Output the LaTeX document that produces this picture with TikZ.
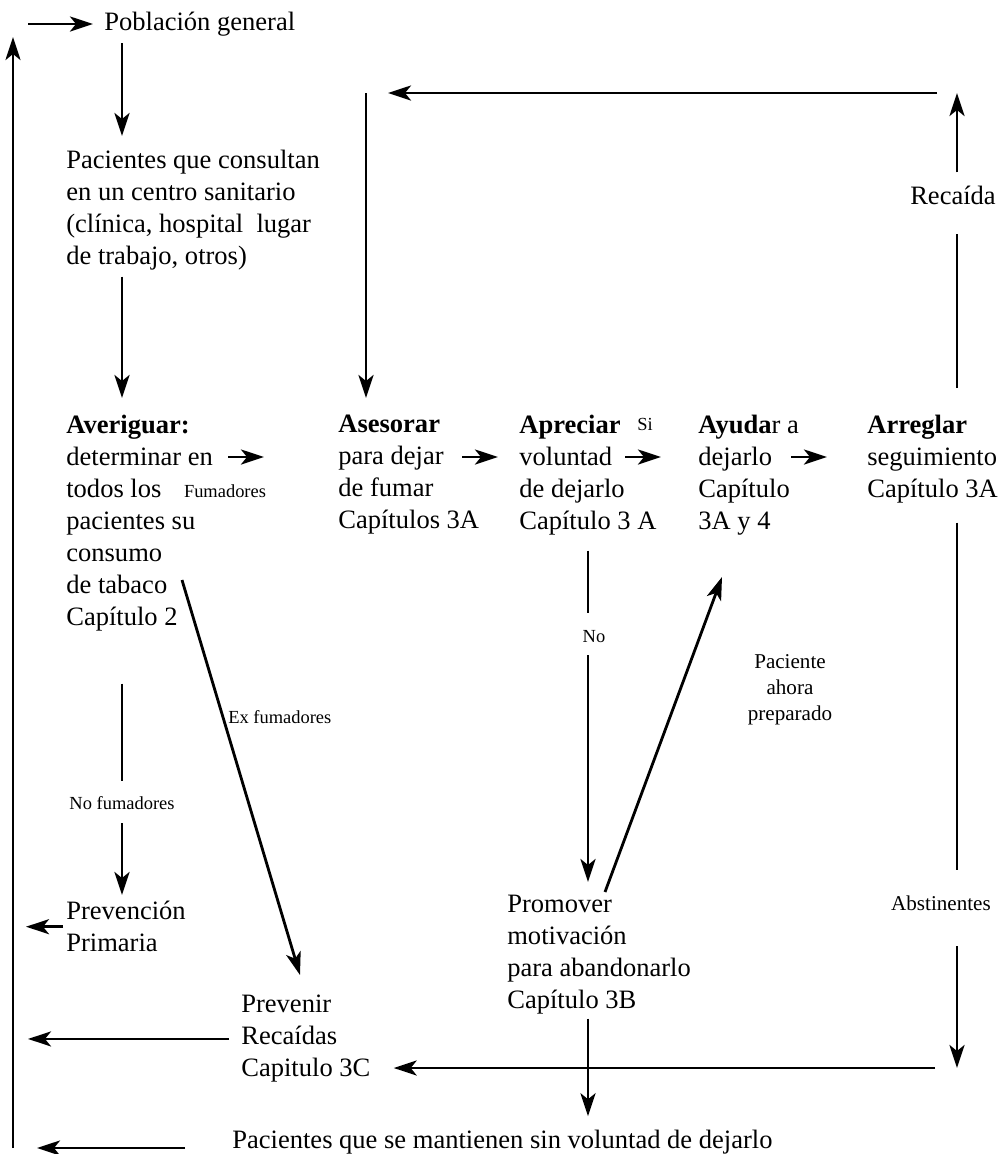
\documentclass[tikz,border=0pt]{standalone}
\usepackage{fontspec}
\setmainfont{Liberation Serif}
\usetikzlibrary{arrows.meta}

\newcommand{\bodyfont}{\fontsize{15.1}{18.2}\selectfont}
\newcommand{\tagfont}{\fontsize{10.5}{12.6}\selectfont}
\newcommand{\notefont}{\fontsize{12}{14.7}\selectfont}

\begin{document}
\begin{tikzpicture}[
  x=0.2mm, y=-0.2mm,
  >={Stealth[length=4.6mm, width=3mm, inset=1.2mm]},
  every node/.style={font=\bodyfont, inner sep=0pt, align=left},
  block/.style={anchor=north west},
  tag/.style={font=\tagfont},
  note/.style={font=\notefont, align=center},
  link/.style={line width=1.6pt}
]
\useasboundingbox (0,0) rectangle (1000,1154);

% Columns of the vertical connectors
\coordinate (colA) at (122,0);
\coordinate (colN) at (588,0);
\coordinate (colR) at (957,0);

% Population and patients
\node[anchor=west] (pob) at (104,24) {Población general};
\node[block] (pac) at (66,150) {Pacientes que consultan\\en un centro sanitario\\(clínica, hospital\ \ lugar\\de trabajo, otros)};

% The five steps
\node[block] (ave) at (66,415) {\textbf{Averiguar:}\\determinar en\\todos los\\pacientes su\\consumo\\de tabaco\\Capítulo 2};
\node[block] (ase) at (338,415) {\textbf{Asesorar}\\para dejar\\de fumar\\Capítulos 3A};
\node[block] (apr) at (519,415) {\textbf{Apreciar}\\voluntad\\de dejarlo\\Capítulo 3 A};
\node[block] (ayu) at (698,415) {\textbf{Ayuda}r a\\dejarlo\\Capítulo\\3A y 4};
\node[block] (arr) at (867,415) {\textbf{Arreglar}\\seguimiento\\Capítulo 3A};

% Outcomes
\node[block] (prevp) at (66,901) {Prevención\\Primaria};
\node[block] (prevr) at (241,995) {Prevenir\\Recaídas\\Capitulo 3C};
\node[block] (prom) at (507,895) {Promover\\motivación\\para abandonarlo\\Capítulo 3B};
\node[anchor=base west] (sinvol) at (232,1148) {Pacientes que se mantienen sin voluntad de dejarlo};

% Labels on the connectors
\node[tag] (fum) at (225,491) {Fumadores};
\node[tag] (si) at (645,424) {Si};
\node[tag] (nofum) at (122,803) {No fumadores};
\node[tag, anchor=west] (exfum) at (228,717) {Ex fumadores};
\node[tag] (no) at (594,637) {No};
\node[note] (prep) at (790,690) {Paciente\\ahora\\preparado};
\node[note] (abst) at (941,903) {Abstinentes};
\node (reca) at (953,195) {Recaída};

% Entry and return line
\coordinate (start) at (28,24);
\coordinate (retB) at (13,1148);
\coordinate (retT) at (13,37);
\draw[link, ->, shorten >=2.2mm] (start) -- (pob.west);
\draw[link, ->] (retB) -- (retT);

% Down the left column
\draw[link, ->, shorten <=1.4mm, shorten >=2.8mm] (pob.south -| colA) -- (pac.north -| colA);
\draw[link, ->, shorten <=1.2mm, shorten >=3.4mm] (pac.south -| colA) -- (ave.north -| colA);
\draw[link, shorten <=10.4mm, shorten >=3.1mm] (ave.south -| colA) -- (nofum.north -| colA);
\draw[link, ->, shorten <=2.7mm, shorten >=1.2mm] (nofum.south -| colA) -- (prevp.north -| colA);
\draw[link, ->, shorten <=0.6mm, shorten >=2.6mm] (prevp.west) -- (prevp.west -| retB);

% Ex smokers
\coordinate (exS) at (182,580);
\coordinate (exE) at (300,975);
\draw[link, ->] (exS) -- (exE);
\draw[link, ->, shorten <=2.4mm, shorten >=3mm] (prevr.west) -- (prevr.west -| retB);
\draw[link, ->, shorten <=9.4mm, shorten >=4.8mm] (sinvol.base west) -- (sinvol.base west -| retB);

% Arrows between the steps
\foreach \i/\x in {1/228, 2/462, 3/625, 4/791} {
  \coordinate (go\i) at (\x,457);
  \draw[link, ->] (go\i) -- ++(36,0);
}

% Relapse loop
\coordinate (topR) at (957,93);
\coordinate (topL) at (366,93);
\draw[link, shorten <=5.4mm, shorten >=5.9mm] (arr.north -| colR) -- (reca.south -| colR);
\draw[link, ->, shorten <=2.6mm] (reca.north -| colR) -- (topR);
\draw[link, ->, shorten <=4mm, shorten >=4.4mm] (topR) -- (topL);
\draw[link, ->, shorten >=3.4mm] (topL) -- (ase.north -| topL);

% Abstinent loop
\coordinate (botR) at (957,1068);
\draw[link, shorten <=3.8mm, shorten >=5mm] (arr.south -| colR) -- (abst.north -| colR);
\draw[link, ->, shorten <=7.1mm] (abst.south -| colR) -- (botR);
\draw[link, ->, shorten <=4.4mm, shorten >=4.6mm] (botR) -- (prevr.east |- botR);

% Not willing branch
\draw[link, shorten <=3mm, shorten >=3.6mm] (apr.south -| colN) -- (no.north -| colN);
\draw[link, ->, shorten <=2.4mm, shorten >=2.6mm] (no.south -| colN) -- (prom.north -| colN);
\coordinate (upS) at (605,892);
\coordinate (upE) at (722,577);
\draw[link, ->] (upS) -- (upE);
\draw[link, ->, shorten <=0.8mm, shorten >=2.6mm] (prom.south -| colN) -- (sinvol.north -| colN);

\end{tikzpicture}
\end{document}
